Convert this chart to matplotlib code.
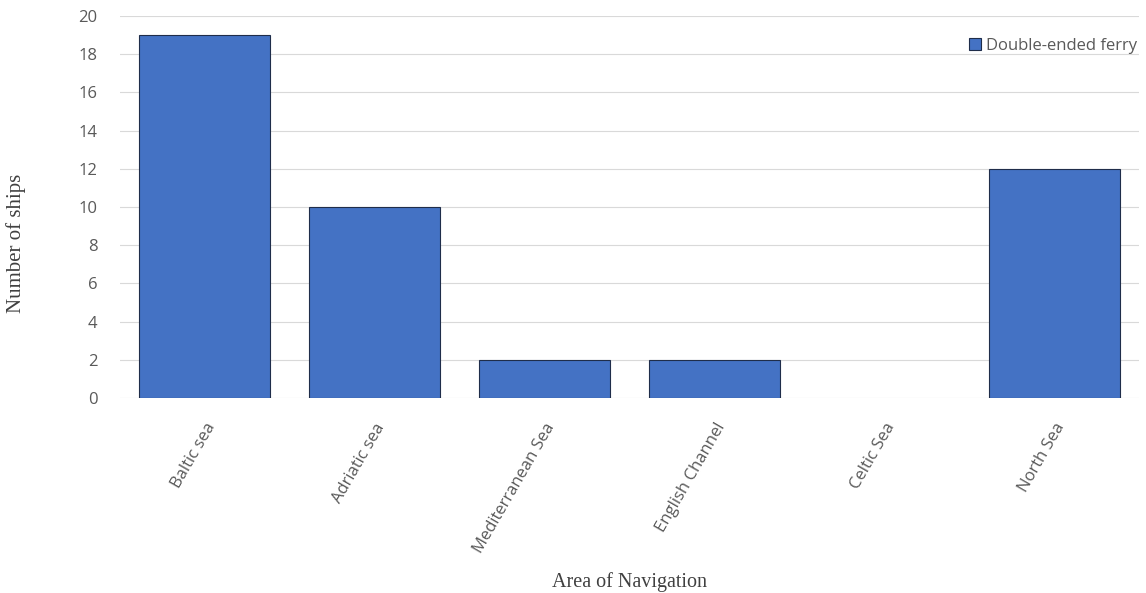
import matplotlib.pyplot as plt
import numpy as np

plt.rcParams['font.family'] = ['Open Sans', 'DejaVu Sans']

# data
areas = ['Baltic sea', 'Adriatic sea', 'Mediterranean Sea', 'English Channel', 'Celtic Sea', 'North Sea']
ships = [19, 10, 2, 2, 0, 12]

fig = plt.figure(figsize=(11.46, 5.93), dpi=100)
ax = fig.add_axes([0.1043, 0.329, 0.89, 0.644])

x = np.arange(len(areas))
edges = ['#1F2D4A' if v > 0 else 'none' for v in ships]
ax.bar(x, ships, width=0.77, color='#4472C4', edgecolor=edges, linewidth=0.8,
       label='Double-ended ferry', zorder=3)

ax.set_xlim(-0.5, len(areas) - 0.5)
ax.set_ylim(0, 20)
ax.set_yticks(range(0, 21, 2))
ax.grid(axis='y', color='#D9D9D9', linewidth=0.8, zorder=0)
ax.tick_params(axis='both', length=0, colors='#595959', labelsize=12)
ax.tick_params(axis='y', pad=16)
ax.set_xticks(x)
ax.set_xticklabels(areas, rotation=60, ha='right', rotation_mode='anchor')
ax.tick_params(axis='x', pad=16)
for s in ax.spines.values():
    s.set_visible(False)

ax.set_ylabel('Number of ships', family='Liberation Serif', fontsize=15, color='#404040')
ax.yaxis.set_label_coords(-0.092, 0.405)
ax.set_xlabel('Area of Navigation', family='Liberation Serif', fontsize=14.5, color='#404040', labelpad=12)

leg = ax.legend(loc='upper right', bbox_to_anchor=(1.004, 0.96), frameon=False, fontsize=12,
                handlelength=0.7, handleheight=0.7, handletextpad=0.3, borderaxespad=0)
for t in leg.get_texts():
    t.set_color('#595959')

fig.savefig('out.png', dpi=100)
